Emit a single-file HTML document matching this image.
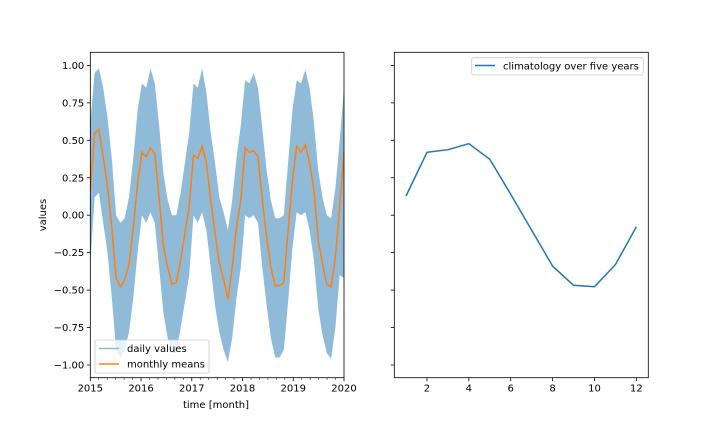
<!DOCTYPE html>
<html><head><meta charset="utf-8"><style>
html,body{margin:0;padding:0;background:#fff;}
svg{display:block;font-family:"DejaVu Sans","Liberation Sans",sans-serif;}
</style></head><body>
<svg id="c" width="720" height="432" viewBox="0 0 720 432" xmlns="http://www.w3.org/2000/svg"></svg>
<script>
const monthlyMeans=[0.16,0.55,0.57,0.39,0.19,-0.08,-0.42,-0.48,-0.43,-0.33,-0.08,0.21,
0.42,0.39,0.45,0.41,0.12,-0.21,-0.35,-0.46,-0.45,-0.30,-0.12,0.06,
0.40,0.38,0.46,0.35,0.10,-0.12,-0.32,-0.43,-0.56,-0.35,-0.08,0.10,
0.45,0.42,0.43,0.39,0.10,-0.14,-0.35,-0.47,-0.47,-0.45,-0.10,0.23,
0.46,0.42,0.47,0.35,0.17,-0.17,-0.32,-0.46,-0.48,-0.28,0.06,0.42];
const dailyHigh=[0.62,0.95,0.98,0.85,0.65,0.38,0.0,-0.05,-0.02,0.12,0.38,0.7,
0.88,0.85,0.98,0.88,0.6,0.28,0.1,0.0,0.0,0.15,0.35,0.55,
0.88,0.85,0.98,0.82,0.55,0.35,0.12,0.02,-0.1,0.1,0.38,0.6,
0.9,0.88,0.95,0.85,0.58,0.3,0.1,-0.02,-0.02,0.0,0.35,0.7,
0.9,0.88,0.97,0.85,0.62,0.3,0.12,0.0,-0.02,0.18,0.5,0.85];
const dailyLow=[-0.33,0.12,0.15,-0.05,-0.25,-0.55,-0.9,-0.95,-0.9,-0.78,-0.55,-0.25,
0.0,-0.05,0.02,-0.05,-0.35,-0.65,-0.82,-0.92,-0.92,-0.75,-0.58,-0.4,
0.0,-0.05,0.02,-0.1,-0.35,-0.6,-0.78,-0.9,-0.98,-0.82,-0.55,-0.35,
0.0,-0.02,0.0,-0.05,-0.35,-0.6,-0.82,-0.95,-0.95,-0.9,-0.58,-0.22,
0.02,0.0,0.02,-0.1,-0.3,-0.62,-0.8,-0.92,-0.96,-0.75,-0.4,-0.42];
const climMonths=[1,2,3,4,5,6,7,8,9,10,11,12];
const climValues=[0.128,0.42,0.437,0.477,0.373,0.14,-0.10,-0.34,-0.468,-0.477,-0.33,-0.077];
const yTicks=[-1,-0.75,-0.5,-0.25,0,0.25,0.5,0.75,1];
const yTickLabels=["\u22121.00","\u22120.75","\u22120.50","\u22120.25","0.00","0.25","0.50","0.75","1.00"];
const yearTicks=[2015,2016,2017,2018,2019,2020];
const monthTicks=[2,4,6,8,10,12];

const svg=document.getElementById('c');
const NS='http://www.w3.org/2000/svg';
function mk(tag,attrs,parent){const e=document.createElementNS(NS,tag);for(const k in attrs)e.setAttribute(k,attrs[k]);(parent||svg).appendChild(e);return e;}
const L={x0:90.3,x1:344,y0:52.3,y1:377.7};
const R={x0:394.3,x1:648.3,y0:52.3,y1:377.7};
const yS=v=>215.2-v*149.8;
const xL=t=>L.x0+(t-2015)/5*(L.x1-L.x0);
const xIdx=i=>xL(2015+i*5/59);
const xR=m=>R.x0+(m-0.44)/(12.57-0.44)*(R.x1-R.x0);

// left clip
const defs=mk('defs',{});
const cp=mk('clipPath',{id:'cl'},defs);mk('rect',{x:L.x0,y:L.y0,width:L.x1-L.x0,height:L.y1-L.y0},cp);

// daily band
let pts=[];
for(let i=0;i<dailyHigh.length;i++)pts.push(xIdx(i).toFixed(1)+','+yS(dailyHigh[i]).toFixed(1));
for(let i=dailyLow.length-1;i>=0;i--)pts.push(xIdx(i).toFixed(1)+','+yS(dailyLow[i]).toFixed(1));
const band=mk('polygon',{points:pts.join(' '),fill:'#8fbbd9','clip-path':'url(#cl)'});



// monthly means
const mm=mk('polyline',{points:monthlyMeans.map((v,i)=>xIdx(i).toFixed(1)+','+yS(v).toFixed(1)).join(' '),fill:'none',stroke:'#ff7f0e','stroke-width':1.5,'clip-path':'url(#cl)'});



// climatology
const cl=mk('polyline',{points:climValues.map((v,i)=>xR(climMonths[i]).toFixed(1)+','+yS(v).toFixed(1)).join(' '),fill:'none',stroke:'#1f77b4','stroke-width':1.5});



// frames
for(const [A,n] of [[L,'left-axes-frame'],[R,'right-axes-frame']]){
  const f=mk('rect',{x:A.x0,y:A.y0,width:A.x1-A.x0,height:A.y1-A.y0,fill:'none',stroke:'#000','stroke-width':0.8});
  
  
}
// y ticks
yTicks.forEach((v,i)=>{
  const y=yS(v);
  mk('line',{x1:L.x0-3.5,x2:L.x0,y1:y,y2:y,stroke:'#000','stroke-width':0.8});
  mk('line',{x1:R.x0-3.5,x2:R.x0,y1:y,y2:y,stroke:'#000','stroke-width':0.8});
  const t=mk('text',{x:L.x0-6,y:y+3.5,'font-size':10,'text-anchor':'end',fill:'#000'});t.textContent=yTickLabels[i];
  
  
});
// year ticks
yearTicks.forEach(yr=>{
  const x=xL(yr);
  mk('line',{x1:x,x2:x,y1:L.y1,y2:L.y1+3.5,stroke:'#000','stroke-width':0.8});
  const t=mk('text',{x:x,y:L.y1+14,'font-size':10,'text-anchor':'middle',fill:'#000'});t.textContent=yr;
  
  
  if(yr<2020)for(let m=2;m<12;m+=2){const xm=xL(yr+m/12);mk('line',{x1:xm,x2:xm,y1:L.y1,y2:L.y1+2,stroke:'#000','stroke-width':0.6});}
});
monthTicks.forEach(m=>{
  const x=xR(m);
  mk('line',{x1:x,x2:x,y1:R.y1,y2:R.y1+3.5,stroke:'#000','stroke-width':0.8});
  const t=mk('text',{x:x,y:R.y1+14,'font-size':10,'text-anchor':'middle',fill:'#000'});t.textContent=m;
  
  
});
</script>
<svg width="720" height="432" style="position:absolute;left:0;top:0" font-family="DejaVu Sans, Liberation Sans, sans-serif">
  <text x="216" y="408" font-size="10" text-anchor="middle">time [month]</text>
  <text transform="translate(46,215) rotate(-90)" font-size="10" text-anchor="middle">values</text>
  <g>
    <rect x="95" y="340" width="114" height="33" rx="2" fill="#fff" fill-opacity="0.8" stroke="#ccc" stroke-width="0.8"/>
    <line x1="99" x2="119" y1="348.5" y2="348.5" stroke="#8fbbd9" stroke-width="1.5"/>
    <text x="127" y="352" font-size="10">daily values</text>
    <line x1="99" x2="119" y1="364" y2="364" stroke="#ff7f0e" stroke-width="1.5"/>
    <text x="127" y="367.5" font-size="10">monthly means</text>
  </g>
  <g>
    <rect x="471.7" y="57.7" width="171.6" height="17.3" rx="2" fill="#fff" fill-opacity="0.8" stroke="#ccc" stroke-width="0.8"/>
    <line x1="475" x2="495" y1="65.5" y2="65.5" stroke="#1f77b4" stroke-width="1.5"/>
    <text x="503" y="69.5" font-size="10">climatology over five years</text>
  </g>
</svg>
</body></html>
